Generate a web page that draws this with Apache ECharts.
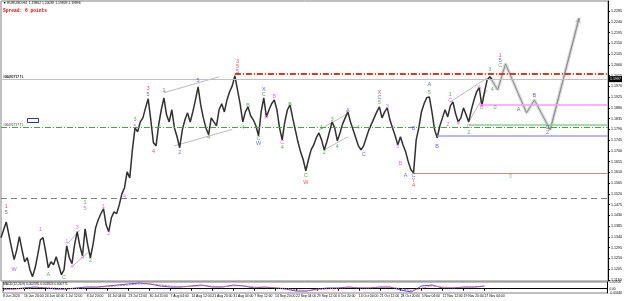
<!DOCTYPE html>
<html>
<head>
<meta charset="utf-8">
<script src="https://cdn.jsdelivr.net/npm/echarts@6/dist/echarts.min.js"></script>
<style>
  html, body { margin: 0; padding: 0; background: #fff; }
  #main { width: 625px; height: 301px; }
</style>
</head>
<body>
<div id="main"></div>
<script>
// EURUSD H4, one value every 4 bars (16h)
var closes = [
  1.1337, 1.1370, 1.1403, 1.1349, 1.1295, 1.1245, 1.1286, 1.1341, 1.1286, 1.1236,
  1.1253, 1.1203, 1.1174, 1.1211, 1.1266, 1.1328, 1.1337, 1.1278, 1.1211, 1.1236,
  1.1224, 1.1257, 1.1220, 1.1182, 1.1203, 1.1303, 1.1253, 1.1228, 1.1307, 1.1362,
  1.1303, 1.1261, 1.1374, 1.1307, 1.1253, 1.1307, 1.1378, 1.1412, 1.1437, 1.1458,
  1.1391, 1.1362, 1.1420, 1.1445, 1.1437, 1.1474, 1.1520, 1.1546, 1.1612, 1.1587,
  1.1704, 1.1796, 1.1780, 1.1821, 1.1838, 1.1880, 1.1918, 1.1830, 1.1734, 1.1721,
  1.1809, 1.1872, 1.1922, 1.1851, 1.1821, 1.1872, 1.1796, 1.1759, 1.1713, 1.1788,
  1.1830, 1.1859, 1.1821, 1.1863, 1.1913, 1.1968, 1.1892, 1.1838, 1.1796, 1.1767,
  1.1838, 1.1821, 1.1805, 1.1872, 1.1897, 1.1863, 1.1913, 1.1947, 1.1972, 1.2014,
  1.1955, 1.1897, 1.1821, 1.1863, 1.1884, 1.1847, 1.1830, 1.1805, 1.1763, 1.1863,
  1.1922, 1.1842, 1.1872, 1.1897, 1.1913, 1.1872, 1.1796, 1.1746, 1.1821, 1.1872,
  1.1892, 1.1838, 1.1788, 1.1738, 1.1696, 1.1663, 1.1617, 1.1663, 1.1704, 1.1725,
  1.1755, 1.1775, 1.1746, 1.1704, 1.1738, 1.1780, 1.1821, 1.1796, 1.1742, 1.1775,
  1.1813, 1.1838, 1.1863, 1.1821, 1.1788, 1.1755, 1.1721, 1.1704, 1.1721, 1.1755,
  1.1788, 1.1813, 1.1838, 1.1863, 1.1884, 1.1838, 1.1863, 1.1880, 1.1830, 1.1796,
  1.1763, 1.1725, 1.1759, 1.1725, 1.1696, 1.1654, 1.1621, 1.1608, 1.1746, 1.1796,
  1.1863, 1.1897, 1.1922, 1.1926, 1.1863, 1.1788, 1.1755, 1.1805, 1.1838, 1.1872,
  1.1842, 1.1888, 1.1905, 1.1855, 1.1821, 1.1838, 1.1880, 1.1851, 1.1821, 1.1872,
  1.1913, 1.1947, 1.1964, 1.1888, 1.1947, 1.1997, 1.2010, 1.1997
];

var dateLabels = [
  '8 Jun 2020', '16 Jun 20:00', '24 Jun 04:00', '1 Jul 12:00', '8 Jul 20:00', '16 Jul 04:00',
  '23 Jul 12:00', '30 Jul 20:00', '7 Aug 04:00', '14 Aug 12:00', '21 Aug 20:00', '31 Aug 04:00',
  '7 Sep 12:00', '14 Sep 20:00', '22 Sep 04:00', '29 Sep 12:00', '6 Oct 20:00', '14 Oct 04:00',
  '21 Oct 12:00', '28 Oct 20:00', '5 Nov 04:00', '12 Nov 12:00', '19 Nov 20:00', '27 Nov 04:00'
];
var slotCount = 232;

var yTicks = [
  1.1160, 1.1205, 1.1250, 1.1295, 1.1340, 1.1385, 1.1430, 1.1475, 1.1520, 1.1565,
  1.1610, 1.1655, 1.1700, 1.1745, 1.1790, 1.1835, 1.1880, 1.1925, 1.1970, 1.2015,
  1.2060, 1.2105, 1.2150, 1.2195, 1.2240, 1.2285
];

// projected wave path [slot, price]
var projection = [[186, 1.2010], [189, 1.1955], [192, 1.2064], [200, 1.1859], [203, 1.1913], [209, 1.1788], [220, 1.2256]];

// channel / trend lines [slot1, price1, slot2, price2]
var channels = [
  [62, 1.1943, 83, 1.2010], [66, 1.1721, 88, 1.1790],
  [121, 1.1788, 132, 1.1855], [123, 1.1704, 132, 1.1759],
  [171, 1.1905, 185, 1.2005], [178, 1.1821, 185, 1.1955],
  [25, 1.1307, 30, 1.1370], [27, 1.1215, 33, 1.1274]
];

// horizontal levels
var redLevel = 1.2022, redFrom = 89;
var orangeLevels = [1.2026, 1.1984];
var greenLevel = 1.1826;
var dashedLevel = 1.1491;
var pinkLevel = 1.1892, pinkFrom = 182;
var greenBox = 1.1809, greenBoxFrom = 178;
var blueLevel = 1.1763, blueFrom = 166;
var roseLevel = 1.1608, roseFrom = 157;

// wave labels [slot, price, text]
var redWaves = [[2, 1.1466, '1'], [56, 1.1959, '3'], [58, 1.1696, '4'], [90, 1.2072, '3'], [90, 1.2051, '5'],
  [116, 1.1566, 'W'], [144, 1.1943, 'X'], [157, 1.1575, 'Y'], [157, 1.1554, '4'], [190, 1.2097, '1'], [208, 1.1776, '2']];
var blueWaves = [[2, 1.1441, '5'], [56, 1.1934, '5'], [62, 1.1951, '1'], [68, 1.1692, '2'], [75, 1.1993, '5'],
  [90, 1.2030, '5'], [98, 1.1730, 'W'], [100, 1.1955, 'X'], [132, 1.1867, 'A'], [138, 1.1683, 'C'],
  [144, 1.1922, 'C'], [154, 1.1596, 'A'], [157, 1.1596, 'C'], [157, 1.1792, 'B'], [163, 1.1976, 'A'],
  [166, 1.1717, 'B'], [190, 1.2076, '5'], [197, 1.1872, 'A'], [203, 1.1930, 'B'], [208, 1.1796, 'C']];
var greenWaves = [[18, 1.1182, 'A'], [24, 1.1169, 'C'], [32, 1.1483, '1'], [34, 1.1240, '2'], [51, 1.1830, '3'],
  [79, 1.1755, '4'], [92, 1.1796, '4'], [94, 1.1888, 'B'], [98, 1.1750, 'C'], [100, 1.1934, 'C'],
  [107, 1.1713, '4'], [110, 1.1892, 'B'], [116, 1.1596, 'C'], [122, 1.1796, '1'], [123, 1.1692, '2'],
  [126, 1.1830, '3'], [128, 1.1717, '4'], [136, 1.1796, '4'], [144, 1.1901, '5'], [163, 1.1943, '5'],
  [171, 1.1934, '1'], [178, 1.1776, '2'], [186, 1.2039, '3'], [187, 1.1955, '4'], [190, 1.2056, 'C'],
  [188, 1.1880, '0'], [194, 1.1591, '⇧']];
var magentaWaves = [[15, 1.1370, '1'], [25, 1.1320, '1'], [27, 1.1220, '2'], [29, 1.1378, '3'], [31, 1.1253, '4'],
  [32, 1.1458, '5'], [39, 1.1466, '1'], [41, 1.1353, '2'], [47, 1.1508, '4'], [51, 1.1801, '5'],
  [101, 1.1838, 'A'], [104, 1.1926, 'B'], [107, 1.1734, 'C'], [147, 1.1884, '3'], [149, 1.1796, '4'],
  [151, 1.1717, '5'], [152, 1.1646, 'B'], [170, 1.1809, '2'], [171, 1.1909, 'C'], [174, 1.1813, '4'],
  [178, 1.1801, 'C'], [182, 1.1964, 'A'], [183, 1.1880, 'B']];
var purpleWaves = [[5, 1.1203, 'W']];

// MACD, one value every 4 slots
var macdMain = [
  -0.0003, -0.0003, 0.0008, 0.0018, 0.0008, -0.0003, -0.0003, 0.0008, 0.0018, 0.0018,
  0.0029, 0.0039, 0.0050, 0.0060, 0.0050, 0.0029, 0.0018, 0.0018, 0.0029, 0.0039,
  0.0018, 0.0018, 0.0039, 0.0029, 0.0008, 0.0018, 0.0008, -0.0003, -0.0024, -0.0024,
  -0.0003, 0.0008, 0.0008, 0.0018, 0.0008, 0.0008, 0.0018, 0.0018, -0.0013, -0.0034,
  0.0029, 0.0039, 0.0008, 0.0008, 0.0018, 0.0018, 0.0029
];
var macdSignal = [
  0.0000, -0.0002, 0.0002, 0.0010, 0.0012, 0.0006, 0.0000, 0.0002, 0.0010, 0.0015,
  0.0022, 0.0031, 0.0041, 0.0050, 0.0052, 0.0040, 0.0028, 0.0022, 0.0024, 0.0032,
  0.0026, 0.0021, 0.0030, 0.0031, 0.0018, 0.0016, 0.0012, 0.0004, -0.0012, -0.0020,
  -0.0012, 0.0000, 0.0005, 0.0012, 0.0011, 0.0009, 0.0014, 0.0016, 0.0002, -0.0020,
  0.0005, 0.0030, 0.0018, 0.0010, 0.0014, 0.0016, 0.0024
];
var macdTicks = [0.00706, 0, -0.00446];

var categories = [];
for (var i = 0; i < slotCount; i++) {
  categories.push(i % 8 === 0 && i / 8 < dateLabels.length ? dateLabels[i / 8] : '');
}
function spread(arr) {
  var out = new Array(slotCount).fill(null);
  arr.forEach(function (v, k) { out[k * 4] = v; });
  return out;
}
function isDateTick(idx) { return idx % 8 === 0 && idx / 8 < dateLabels.length; }

var dashDot = [6, 2, 1, 2];
var lastClose = closes[closes.length - 1];

function waveSeries(list, color) {
  return {
    type: 'scatter', xAxisIndex: 0, yAxisIndex: 0, symbolSize: 1, silent: true,
    itemStyle: { color: 'rgba(0,0,0,0)' },
    label: { show: true, position: 'inside', color: color, fontSize: 5.5, fontFamily: 'Liberation Sans',
      formatter: function (p) { return p.data[2]; } },
    data: list, z: 6
  };
}
function levelLabel() {
  return { show: true, position: 'insideStartTop', formatter: '#06092717 TL', fontSize: 3.2, color: '#333',
    fontFamily: 'Liberation Sans', distance: [2, 0.5] };
}

var chart = echarts.init(document.getElementById('main'), null, { renderer: 'canvas' });
var option = {
  animation: false,
  backgroundColor: '#ffffff',
  grid: [
    { left: 1, right: 16, top: 1, height: 280, show: true, borderColor: '#808080', borderWidth: 1 },
    { left: 1, right: 16, top: 282, height: 11, show: true, borderColor: '#808080', borderWidth: 1 }
  ],
  xAxis: [
    { type: 'category', gridIndex: 0, data: categories, boundaryGap: false,
      axisLine: { show: false }, axisTick: { show: false }, axisLabel: { show: false }, splitLine: { show: false } },
    { type: 'category', gridIndex: 1, data: categories, boundaryGap: false,
      axisLine: { show: true, lineStyle: { color: '#000', width: 1 } },
      axisTick: { show: true, length: 2, interval: isDateTick, lineStyle: { color: '#000' } },
      axisLabel: { show: true, interval: isDateTick, showMinLabel: true, align: 'left', fontSize: 3.4, margin: 2,
        color: '#000', fontFamily: 'Liberation Sans' },
      splitLine: { show: false } }
  ],
  yAxis: [
    { type: 'value', gridIndex: 0, position: 'right', min: 1.115576, max: 1.232682,
      axisLine: { show: true, lineStyle: { color: '#000' } },
      axisTick: { show: true, length: 2, customValues: yTicks, lineStyle: { color: '#000' } },
      axisLabel: { customValues: yTicks, fontSize: 3.6, margin: 3, color: '#000', fontFamily: 'Liberation Sans',
        formatter: function (v) { return v.toFixed(4); } },
      splitLine: { show: false } },
    { type: 'value', gridIndex: 1, position: 'right', min: -0.00446, max: 0.00706,
      axisLine: { show: true, lineStyle: { color: '#000' } },
      axisTick: { show: false },
      axisLabel: { customValues: macdTicks, fontSize: 3.2, margin: 2, color: '#000', fontFamily: 'Liberation Sans',
        formatter: function (v) { return v === 0 ? '0.00' : v.toFixed(5); } },
      splitLine: { show: false } }
  ],
  graphic: [
    { type: 'text', left: 3, top: 2, style: { text: '▼ EURUSD,H4  1.19862 1.20039 1.19809 1.19896', fontSize: 3.4, fill: '#000', fontFamily: 'Liberation Sans' } },
    { type: 'text', left: 3, top: 8, style: { text: 'Spread: 6 points', fontSize: 4.6, fontWeight: 'bold', fill: '#ff0000', fontFamily: 'Liberation Mono' } },
    { type: 'text', left: 3, top: 283, style: { text: 'MACD(12,26,9) 0.002595 0.001824 0.000771', fontSize: 3.2, fill: '#000', fontFamily: 'Liberation Sans' } },
    { type: 'rect', left: 27, top: 118, shape: { width: 11, height: 4 }, style: { fill: '#fff', stroke: '#3030a0', lineWidth: 1 } }
  ],
  series: [
    { type: 'line', name: 'EURUSD', xAxisIndex: 0, yAxisIndex: 0, data: closes, showSymbol: false,
      lineStyle: { color: '#303030', width: 1.5 }, z: 4,
      markLine: {
        silent: true, symbol: 'none', animation: false,
        label: { show: false },
        data: [
          { yAxis: orangeLevels[0], lineStyle: { color: '#ff8a50', type: dashDot, width: 1 }, label: levelLabel() },
          { yAxis: orangeLevels[1], lineStyle: { color: '#ff8a50', type: dashDot, width: 1 }, label: levelLabel() },
          { yAxis: lastClose, lineStyle: { color: '#c0c0c0', type: 'solid', width: 1 },
            label: { show: true, position: 'end', distance: 1, formatter: lastClose.toFixed(4), fontSize: 3.6,
              color: '#fff', backgroundColor: '#000', padding: [1, 1] } },
          { yAxis: greenLevel, lineStyle: { color: '#3faa3f', type: dashDot, width: 1 }, label: levelLabel() },
          { yAxis: dashedLevel, lineStyle: { color: '#808080', type: [6, 4], width: 1 } },
          [{ xAxis: redFrom, yAxis: redLevel, lineStyle: { color: '#d83a1e', type: dashDot, width: 2 } }, { xAxis: slotCount - 1, yAxis: redLevel }],
          [{ xAxis: pinkFrom, yAxis: pinkLevel, lineStyle: { color: '#ff99ff', type: 'solid', width: 1.5 } }, { xAxis: slotCount - 1, yAxis: pinkLevel }],
          [{ xAxis: greenBoxFrom, yAxis: greenBox, lineStyle: { color: '#8fcf8f', type: 'solid', width: 1.5 } }, { xAxis: slotCount - 1, yAxis: greenBox }],
          [{ xAxis: blueFrom, yAxis: blueLevel, lineStyle: { color: '#a0a0ff', type: 'solid', width: 1.5 } }, { xAxis: slotCount - 1, yAxis: blueLevel }],
          [{ xAxis: roseFrom, yAxis: roseLevel, lineStyle: { color: '#d08888', type: 'solid', width: 1 } }, { xAxis: slotCount - 1, yAxis: roseLevel }]
        ]
      }
    },
    { type: 'line', xAxisIndex: 0, yAxisIndex: 0, data: projection, showSymbol: false, silent: true,
      lineStyle: { color: '#dadada', width: 3.5 }, z: 2 },
    { type: 'line', xAxisIndex: 0, yAxisIndex: 0, data: projection, showSymbol: false, silent: true,
      lineStyle: { color: '#8a8a8a', width: 1 }, z: 3 },
    { type: 'lines', coordinateSystem: 'cartesian2d', xAxisIndex: 0, yAxisIndex: 0, silent: true,
      symbol: ['none', 'arrow'], symbolSize: 5,
      lineStyle: { color: '#8a8a8a', width: 1 },
      data: [{ coords: [projection[projection.length - 2], projection[projection.length - 1]] }], z: 3 },
    { type: 'lines', coordinateSystem: 'cartesian2d', xAxisIndex: 0, yAxisIndex: 0, silent: true,
      lineStyle: { color: '#555', width: 0.8 },
      data: channels.map(function (c) { return { coords: [[c[0], c[1]], [c[2], c[3]]] }; }), z: 3 },
    waveSeries(redWaves, '#ff2020'),
    waveSeries(blueWaves, '#2f3fff'),
    waveSeries(greenWaves, '#2ea02e'),
    waveSeries(magentaWaves, '#f040f0'),
    waveSeries(purpleWaves, '#8a3ad0'),
    { type: 'line', xAxisIndex: 1, yAxisIndex: 1, data: spread(macdMain), connectNulls: true, showSymbol: false,
      lineStyle: { color: '#4a4aff', width: 1 },
      markLine: { silent: true, symbol: 'none', label: { show: false },
        data: [{ yAxis: 0, lineStyle: { color: '#000', type: [1, 1], width: 1 } }] } },
    { type: 'line', xAxisIndex: 1, yAxisIndex: 1, data: spread(macdSignal), connectNulls: true, showSymbol: false,
      lineStyle: { color: '#ff6a6a', width: 1, type: [2, 1] } }
  ]
};
chart.setOption(option);
</script>
</body>
</html>
